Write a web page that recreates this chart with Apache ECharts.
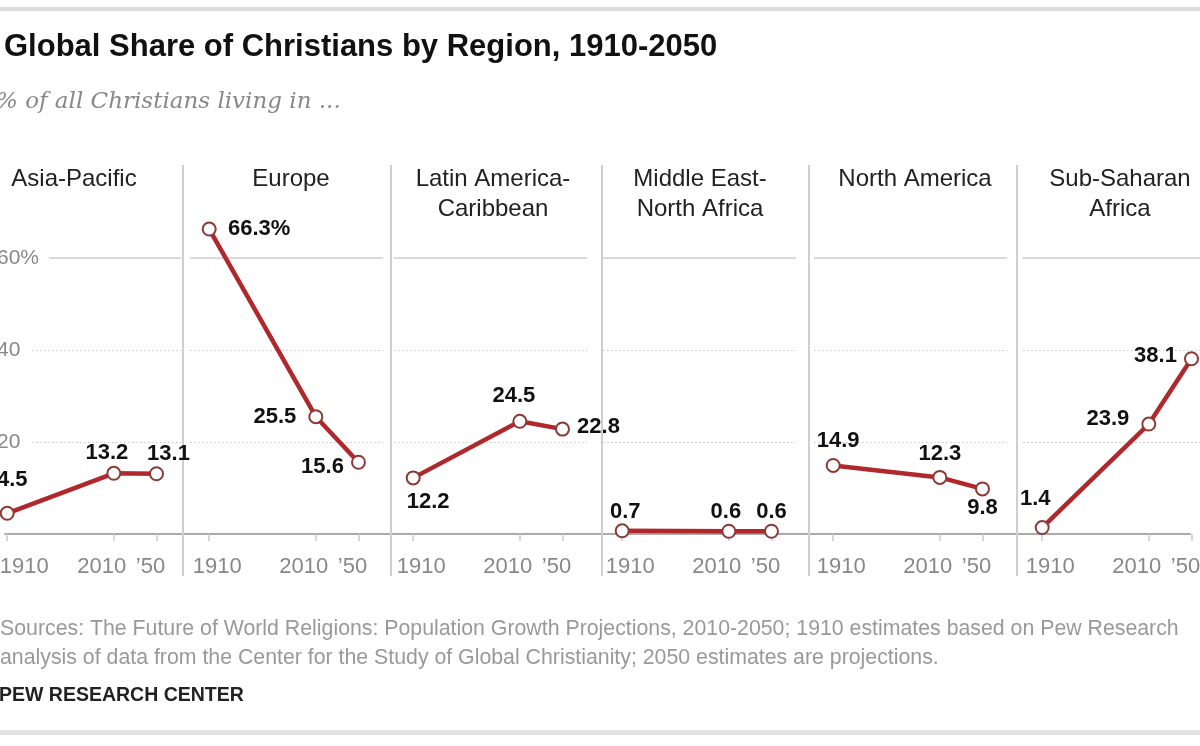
<!DOCTYPE html>
<html>
<head>
<meta charset="utf-8">
<script src="https://cdn.jsdelivr.net/npm/echarts@6/dist/echarts.min.js"></script>
<style>html,body{margin:0;padding:0;background:#fff}#c{width:1200px;height:746px}</style>
</head>
<body>
<div id="c"></div>
<script>
// ---- data ----
const regions = ['Asia-Pacific', 'Europe', 'Latin America-\nCaribbean', 'Middle East-\nNorth Africa', 'North America', 'Sub-Saharan\nAfrica'];
const years = [1910, 2010, 2050];
const yearLabels = ['1910', '2010', '\u201950'];
const asiaPacific = [4.5, 13.2, 13.1];
const europe = [66.3, 25.5, 15.6];
const latinAmerica = [12.2, 24.5, 22.8];
const middleEast = [0.7, 0.6, 0.6];
const northAmerica = [14.9, 12.3, 9.8];
const subSaharan = [1.4, 23.9, 38.1];
const yTickValues = [20, 40, 60];
const yTickLabels = ['20', '40', '60%'];
const valueLabels = [
  ['4.5', '13.2', '13.1'],
  ['66.3%', '25.5', '15.6'],
  ['12.2', '24.5', '22.8'],
  ['0.7', '0.6', '0.6'],
  ['14.9', '12.3', '9.8'],
  ['1.4', '23.9', '38.1']
];
const seriesValues = [asiaPacific, europe, latinAmerica, middleEast, northAmerica, subSaharan];

// ---- layout / style ----
const FONT = '"Liberation Sans", Arial, sans-serif';
const gridLefts = [-12, 190, 394, 603, 814, 1023];
const gridWidth = 193;
const gridTop = 212, gridHeight = 322;
const titleCenters = [74, 291, 493, 700, 915, 1120];
const separators = [183, 391, 602, 809, 1017];
const labelOffsets = [
  [[5, -33], [-7, -20], [12, -20]],
  [[50, 0], [-41, 0], [-36, 5]],
  [[15, 24], [-6, -25], [36, -2]],
  [[3, -19], [-3, -19], [0, -19]],
  [[5, -25], [0, -23], [0, 19]],
  [[-7, -29], [-41, -5], [-36, -3]]
];
const yearLabelRich = {
  a: { padding: [0, 0, 0, 16] },
  a0: { padding: [0, 0, 0, 34] },
  b: { padding: [0, 24, 0, 0] },
  c: { padding: [0, 12, 0, 0] }
};

const grids = [], xAxes = [], yAxes = [], series = [];
const titles = [
  { text: 'Global Share of Christians by Region, 1910-2050', left: 4, top: 32, padding: 0,
    textStyle: { fontFamily: FONT, fontSize: 31, fontWeight: 'bold', color: '#111' } },
  { text: '% of all Christians living in ...', left: -4, top: 91, padding: 0,
    textStyle: { fontFamily: '"DejaVu Serif", Georgia, serif', fontStyle: 'italic', fontSize: 23, fontWeight: 'normal', color: '#888' } },
  { text: 'Sources: The Future of World Religions: Population Growth Projections, 2010-2050; 1910 estimates based on Pew Research\nanalysis of data from the Center for the Study of Global Christianity; 2050 estimates are projections.',
    left: 0, top: 615, padding: 0,
    textStyle: { fontFamily: FONT, fontSize: 21.3, fontWeight: 'normal', color: '#999', lineHeight: 29 } },
  { text: 'PEW RESEARCH CENTER', left: -1, top: 686, padding: 0,
    textStyle: { fontFamily: FONT, fontSize: 19.5, fontWeight: 'bold', color: '#222' } }
];

// baseline grid (full width)
grids.push({ left: 5, width: 1185, top: gridTop, height: gridHeight, outerBoundsMode: 'none', containLabel: false });
xAxes.push({ gridIndex: 0, type: 'value', min: 0, max: 1, axisLine: { show: true, lineStyle: { color: '#aaa', width: 2 } },
  axisTick: { show: false }, axisLabel: { show: false }, splitLine: { show: false } });
yAxes.push({ gridIndex: 0, type: 'value', min: 0, max: 70, show: false });

seriesValues.forEach((vals, i) => {
  const g = i + 1;
  const richKeys = i === 0 ? ['a0', 'b', 'c'] : ['a', 'b', 'c'];
  grids.push({ left: gridLefts[i], width: gridWidth, top: gridTop, height: gridHeight, outerBoundsMode: 'none', containLabel: false });
  xAxes.push({
    gridIndex: g, type: 'value', min: 1892, max: 2073,
    axisLine: { show: false },
    axisTick: { show: true, customValues: years, length: 7, lineStyle: { color: '#ccc', width: 1.5 } },
    axisLabel: {
      customValues: years, margin: 22, fontFamily: FONT, fontSize: 22, color: '#888',
      formatter: v => { const k = years.indexOf(v); return k < 0 ? '' : '{' + richKeys[k] + '|' + yearLabels[k] + '}'; },
      rich: yearLabelRich
    },
    splitLine: { show: false }
  });
  // dotted grid lines
  yAxes.push({
    gridIndex: g, type: 'value', min: 0, max: 70, interval: 20,
    axisLine: { show: false }, axisTick: { show: false },
    axisLabel: i === 0 ? {
      show: true, inside: true, margin: 9, fontFamily: FONT, fontSize: 21, color: '#888',
      backgroundColor: '#fff', padding: [2, 10, 2, 0], showMaxLabel: false, showMinLabel: false,
      formatter: v => { const k = yTickValues.indexOf(v); return k < 0 ? '' : yTickLabels[k]; }
    } : { show: false },
    splitLine: { show: true, showMinLine: false, showMaxLine: false, lineStyle: { color: '#c8c8c8', type: [1.5, 2.5], width: 1.2 } }
  });
  // solid 60 line
  yAxes.push({
    gridIndex: g, type: 'value', min: 0, max: 70, interval: 60,
    axisLine: { show: false }, axisTick: { show: false }, axisLabel: { show: false },
    splitLine: { show: true, showMinLine: false, showMaxLine: false, lineStyle: { color: '#d0d0d0', width: 1.5 } }
  });
  series.push({
    type: 'line', xAxisIndex: g, yAxisIndex: 2 * i + 1,
    data: years.map((y, k) => ({
      value: [y, vals[k]],
      label: { show: true, position: 'inside', offset: labelOffsets[i][k], formatter: valueLabels[i][k] }
    })),
    symbol: 'circle', symbolSize: 13,
    lineStyle: { color: '#b0282c', width: 4.5 },
    itemStyle: { color: '#fff', borderColor: '#8c3a35', borderWidth: 2 },
    label: { fontFamily: FONT, fontSize: 22, fontWeight: 'bold', color: '#111' },
    emphasis: { disabled: true },
    z: 5
  });
  titles.push({
    text: regions[i], left: titleCenters[i], textAlign: 'center', top: 164, padding: 0,
    textStyle: { fontFamily: FONT, fontSize: 24, fontWeight: 'normal', color: '#222', lineHeight: 30 }
  });
});

const graphics = [
  { type: 'rect', shape: { x: 0, y: 7, width: 1200, height: 4 }, style: { fill: '#dcdcdc' } },
  { type: 'rect', shape: { x: 0, y: 730, width: 1200, height: 5 }, style: { fill: '#e2e2e2' } }
].concat(separators.map(x => ({
  type: 'line', shape: { x1: x, y1: 165, x2: x, y2: 576 }, style: { stroke: '#cfcfcf', lineWidth: 2 }, z: 1
})));

const chart = echarts.init(document.getElementById('c'), null, { renderer: 'canvas' });
chart.setOption({
  backgroundColor: '#fff',
  animation: false,
  title: titles,
  grid: grids,
  xAxis: xAxes,
  yAxis: yAxes,
  series: series,
  graphic: graphics
});
</script>
</body>
</html>
